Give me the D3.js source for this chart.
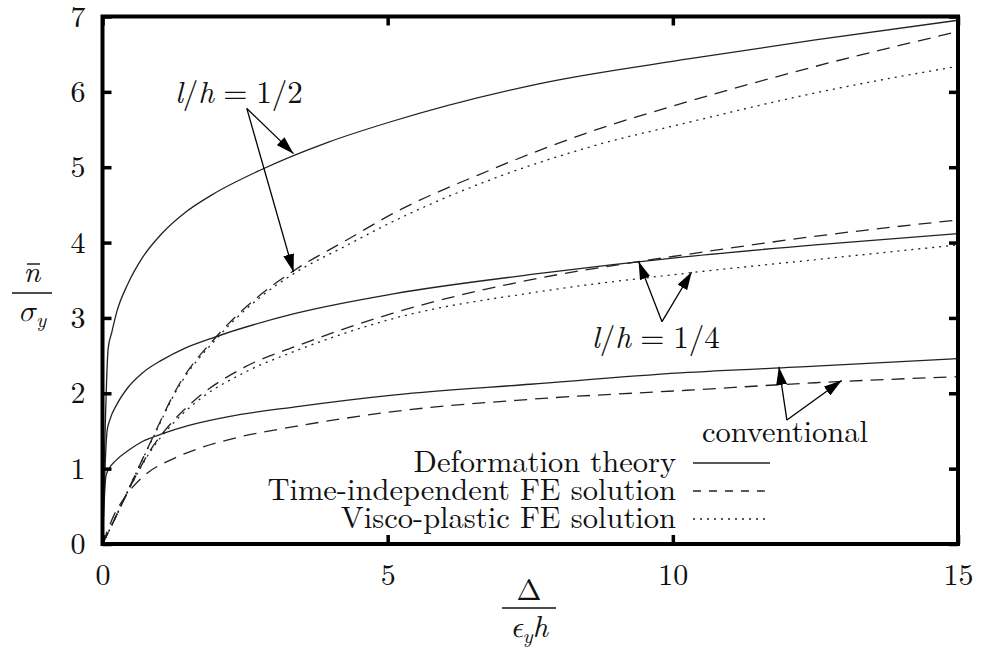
<!DOCTYPE html>
<html>
<head>
<meta charset="utf-8">
<script src="https://cdn.jsdelivr.net/npm/d3@7"></script>
<style>
  body { margin: 0; background: #fff; }
</style>
</head>
<body>
<svg id="chart" width="983" height="653"></svg>
<script>
// ---------- DATA ----------
const xTicks = [0, 5, 10, 15];
const yTicks = [0, 1, 2, 3, 4, 5, 6, 7];

// deformation theory (solid)
const defHalf = [[0,0],[0.1,2.6],[0.16,2.8],[0.25,3.08],[0.45,3.46],[0.7,3.8],[1.04,4.12],[1.45,4.4],[1.91,4.63],[2.79,4.97],[3.95,5.33],[5.04,5.6],[7.67,6.11],[10.3,6.44],[12.5,6.69],[15,6.95]];
const defQuarter = [[0,0],[0.08,1.5],[0.13,1.65],[0.25,1.85],[0.45,2.08],[0.7,2.27],[1.04,2.44],[1.45,2.6],[1.91,2.73],[3.38,3.06],[5.1,3.32],[7.67,3.59],[10.2,3.81],[12.5,3.97],[15,4.12]];
const defConv = [[0,0],[0.06,0.9],[0.1,0.98],[0.25,1.12],[0.45,1.24],[0.7,1.36],[1.04,1.46],[1.5,1.57],[2.21,1.69],[3.38,1.82],[5.13,1.98],[7.5,2.12],[10.13,2.27],[12.5,2.36],[15,2.46]];

// time-independent FE solution (dashed)
const feHalf = [[0,0],[0.22,0.34],[0.5,0.8],[0.86,1.38],[1.33,2.1],[2.03,2.78],[2.79,3.32],[3.38,3.64],[4.25,4.02],[5.08,4.38],[6.79,4.96],[8.55,5.47],[10.13,5.84],[12.46,6.33],[15,6.8]];
const feQuarter = [[0,0],[0.22,0.34],[0.5,0.78],[0.86,1.27],[1.2,1.6],[1.62,1.91],[2.5,2.35],[3.38,2.62],[5.08,3.06],[7.67,3.53],[9.42,3.75],[10.13,3.83],[12.46,4.08],[15,4.3]];
const feConv = [[0,0],[0.2,0.38],[0.45,0.68],[0.8,0.95],[1.15,1.1],[1.62,1.25],[2.4,1.42],[3.38,1.56],[5.13,1.76],[7.5,1.92],[10.24,2.04],[12.5,2.14],[15,2.22]];

// visco-plastic FE solution (dotted)
const vpHalf = [[0,0],[0.22,0.34],[0.5,0.8],[0.86,1.37],[1.33,2.08],[2.03,2.75],[2.79,3.29],[3.38,3.6],[4.25,3.95],[5.04,4.26],[6.79,4.83],[8.55,5.27],[10.3,5.6],[12.46,5.98],[15,6.34]];
const vpQuarter = [[0,0],[0.22,0.34],[0.5,0.78],[0.86,1.25],[1.2,1.57],[1.62,1.87],[2.5,2.28],[3.38,2.56],[5.04,2.98],[7.67,3.35],[10.2,3.59],[12.46,3.77],[15,3.97]];

// annotations: label position, arrow start, arrow tips (data units)
const annHalf = { label: [1.27, 5.85], from: [2.53, 5.78], tips: [[3.35, 5.18], [3.35, 3.61]] };
const annQuarter = { label: [8.58, 2.60], from: [9.81, 2.95], tips: [[9.40, 3.75], [10.33, 3.61]] };
const annConv = { label: [10.51, 1.36], from: [12.0, 1.645], tips: [[11.86, 2.35], [12.96, 2.17]] };

const legendLabels = ["Deformation theory", "Time-independent FE solution", "Visco-plastic FE solution"];

// ---------- SETUP ----------
const FONT = '"Latin Modern Roman", "Latin Modern Math", "Liberation Serif", serif';
const svg = d3.select("#chart");
const plotLeft = 102.5, plotRight = 958, plotTop = 16.5, plotBottom = 544;

const x = d3.scaleLinear().domain([0, 15]).range([plotLeft, plotRight]);
const y = d3.scaleLinear().domain([0, 7]).range([plotBottom, plotTop]);

const styles = {
  solid: null,
  dashed: "13,8",
  dotted: "2,5"
};

const line = d3.line()
  .x(d => x(d[0]))
  .y(d => y(d[1]))
  .curve(d3.curveMonotoneX);

const series = [
  { data: defHalf, dash: styles.solid },
  { data: defQuarter, dash: styles.solid },
  { data: defConv, dash: styles.solid },
  { data: feHalf, dash: styles.dashed },
  { data: feQuarter, dash: styles.dashed },
  { data: feConv, dash: styles.dashed },
  { data: vpHalf, dash: styles.dotted },
  { data: vpQuarter, dash: styles.dotted }
];

svg.append("g")
  .selectAll("path")
  .data(series)
  .enter()
  .append("path")
  .attr("d", d => line(d.data))
  .attr("fill", "none")
  .attr("stroke", "#222")
  .attr("stroke-width", 1.3)
  .attr("stroke-dasharray", d => d.dash);

// ---------- AXES ----------
function styleAxis(g) {
  g.attr("font-family", null);
  g.select(".domain").remove();
  g.selectAll(".tick line").attr("stroke", "#000").attr("stroke-width", 3.5);
  g.selectAll(".tick text").style("font-size", "30px").attr("fill", "#111");
}

svg.append("g")
  .attr("transform", `translate(0,${plotBottom})`)
  .call(d3.axisBottom(x).tickValues(xTicks).tickSize(-9).tickPadding(20).tickFormat(d3.format("d")))
  .call(styleAxis);

svg.append("g")
  .attr("transform", `translate(0,${plotTop})`)
  .call(d3.axisTop(x).tickValues(xTicks).tickSize(-9).tickFormat(""))
  .call(styleAxis);

svg.append("g")
  .attr("transform", `translate(${plotLeft},0)`)
  .call(d3.axisLeft(y).tickValues(yTicks).tickSize(-9).tickPadding(17).tickFormat(d3.format("d")))
  .call(styleAxis);

svg.append("g")
  .attr("transform", `translate(${plotRight},0)`)
  .call(d3.axisRight(y).tickValues(yTicks).tickSize(-9).tickFormat(""))
  .call(styleAxis);

// frame
svg.append("rect")
  .attr("x", plotLeft)
  .attr("y", plotTop)
  .attr("width", plotRight - plotLeft)
  .attr("height", plotBottom - plotTop)
  .attr("fill", "none")
  .attr("stroke", "#000")
  .attr("stroke-width", 4);

// ---------- AXIS LABELS ----------
// y: n-bar over sigma_y
const yl = svg.append("g").attr("transform", "translate(32,0)");
yl.append("text").attr("x", 0).attr("y", 282)
  .attr("text-anchor", "middle").style("font-size", "30px").style("font-style", "italic").text("n");
yl.append("line").attr("x1", -5).attr("x2", 8).attr("y1", 264).attr("y2", 264)
  .attr("stroke", "#111").attr("stroke-width", 1.4);
yl.append("line").attr("x1", -20).attr("x2", 20).attr("y1", 293).attr("y2", 293)
  .attr("stroke", "#111").attr("stroke-width", 1.4);
const sig = yl.append("text").attr("x", 0).attr("y", 321)
  .attr("text-anchor", "middle").style("font-size", "30px").style("font-style", "italic");
sig.append("tspan").text("σ");
sig.append("tspan").attr("dy", 6).style("font-size", "21px").text("y");

// x: Delta over epsilon_y h
const xl = svg.append("g").attr("transform", "translate(529,0)");
xl.append("text").attr("x", 0).attr("y", 600)
  .attr("text-anchor", "middle").style("font-size", "30px").text("Δ");
xl.append("line").attr("x1", -27).attr("x2", 27).attr("y1", 608).attr("y2", 608)
  .attr("stroke", "#111").attr("stroke-width", 1.4);
const eps = xl.append("text").attr("x", 0).attr("y", 637)
  .attr("text-anchor", "middle").style("font-size", "30px").style("font-style", "italic");
eps.append("tspan").text("ϵ");
eps.append("tspan").attr("dy", 6).style("font-size", "21px").text("y");
eps.append("tspan").attr("dy", -6).text("h");

// ---------- ANNOTATIONS ----------
svg.append("defs").append("marker")
  .attr("id", "head")
  .attr("viewBox", "0 0 18 11")
  .attr("refX", 18).attr("refY", 5.5)
  .attr("markerWidth", 18).attr("markerHeight", 11)
  .attr("markerUnits", "userSpaceOnUse")
  .attr("orient", "auto")
  .append("path")
  .attr("d", "M0,0 L18,5.5 L0,11 Z")
  .attr("fill", "#000");

function mathLabel(pos, frac) {
  const t = svg.append("text")
    .attr("x", x(pos[0])).attr("y", y(pos[1]))
    .style("font-size", "31px");
  t.append("tspan").style("font-style", "italic").text("l");
  t.append("tspan").text("/");
  t.append("tspan").style("font-style", "italic").text("h");
  t.append("tspan").attr("dx", 9).text("=");
  t.append("tspan").attr("dx", 9).text(frac);
}

[annHalf, annQuarter, annConv].forEach(a => {
  a.tips.forEach(tp => {
    svg.append("line")
      .attr("x1", x(a.from[0])).attr("y1", y(a.from[1]))
      .attr("x2", x(tp[0])).attr("y2", y(tp[1]))
      .attr("stroke", "#000").attr("stroke-width", 1.3)
      .attr("marker-end", "url(#head)");
  });
});

mathLabel(annHalf.label, "1/2");
mathLabel(annQuarter.label, "1/4");
svg.append("text")
  .attr("x", x(annConv.label[0])).attr("y", y(annConv.label[1]))
  .style("font-size", "30.5px")
  .text("conventional");

// ---------- LEGEND ----------
const legendDash = [styles.solid, "8,8", styles.dotted];
const legend = svg.append("g").attr("transform", "translate(676,463)");

legend.selectAll("g")
  .data(legendLabels)
  .enter()
  .append("g")
  .attr("transform", (d, i) => `translate(0,${i * 28})`)
  .each(function(d, i) {
    const g = d3.select(this);
    g.append("text")
      .attr("x", 0).attr("y", 9)
      .attr("text-anchor", "end")
      .style("font-size", "30.5px")
      .text(d);
    g.append("line")
      .attr("x1", 17).attr("x2", 94).attr("y1", 0).attr("y2", 0)
      .attr("stroke", "#222").attr("stroke-width", 1.3)
      .attr("stroke-dasharray", legendDash[i]);
  });

svg.selectAll("text").style("font-family", FONT).attr("fill", "#111");
</script>
</body>
</html>
